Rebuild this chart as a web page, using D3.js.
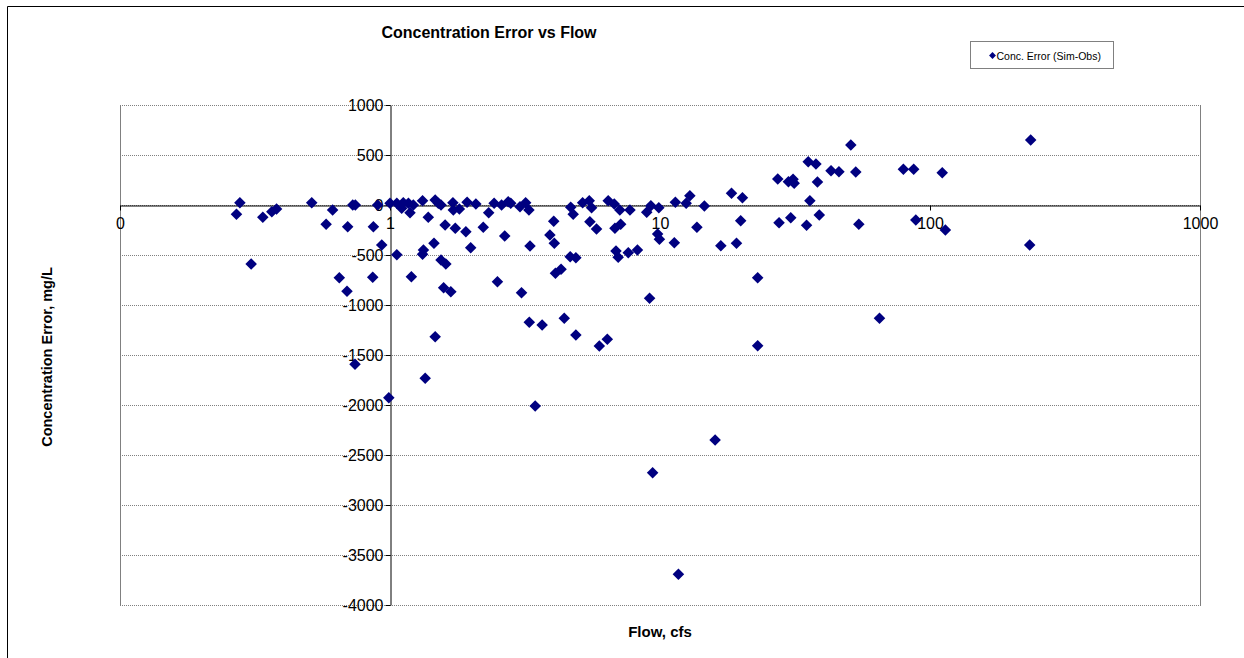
<!DOCTYPE html>
<html>
<head>
<meta charset="utf-8">
<script src="https://cdn.jsdelivr.net/npm/d3@7"></script>
<style>
  body { margin: 0; background: #fff; }
  svg { display: block; font-family: "Liberation Sans", Arial, sans-serif; }
  .title, .axis-label { font-weight: bold; fill: #000; }
</style>
</head>
<body>
<svg id="chart" width="1244" height="658"></svg>
<script>
// flow (cfs) and concentration error (mg/L)
const flows = [
  0.278, 0.27, 0.306, 0.338, 0.365, 0.38, 0.513, 0.613, 0.58, 0.697,
  0.649, 0.693, 0.742, 0.728, 0.744, 0.9, 0.868, 0.863, 0.932, 0.99,
  1.06, 1.0, 1.06, 1.105, 1.12, 1.17, 1.186, 1.22, 1.2, 1.32,
  1.386, 1.33, 1.32, 1.47, 1.35, 1.455, 1.47, 1.51, 1.545, 1.545,
  1.61, 1.6, 1.58, 1.68, 1.71, 1.716, 1.807, 1.745, 1.91, 1.93,
  1.99, 2.08, 2.215, 2.32, 2.43, 2.5, 2.59, 2.66, 2.74, 2.8,
  3.03, 3.18, 3.27, 3.07, 3.3, 3.28, 3.66, 3.45, 4.04, 3.91,
  4.06, 4.1, 4.3, 4.42, 4.65, 4.88, 4.67, 4.77, 4.88, 5.17,
  5.47, 5.58, 5.5, 5.82, 5.96, 6.38, 6.43, 6.77, 7.1, 6.81,
  7.15, 6.87, 7.0, 7.63, 8.25, 7.74, 8.93, 9.25, 9.9, 9.15,
  9.8, 9.95, 11.4, 11.3, 12.5, 12.9, 13.7, 14.6, 16.8, 18.4,
  20.2, 19.2, 19.9, 23.0, 23.0, 16.0, 9.39, 11.7, 27.3, 27.6,
  29.9, 31.1, 31.4, 30.5, 34.9, 35.4, 37.8, 35.9, 38.3, 38.9,
  43.0, 46.0, 50.9, 53.1, 54.5, 65, 79.7, 87, 88.6, 111,
  114, 236, 234
];
const errors = [
  23, -93, -590, -123, -67, -40, 23, -50, -193, -217,
  -727, -863, -1593, 0, 0, 0, -217, -723, -400, -1927,
  -497, 17, 17, -33, 23, 17, -77, 0, -717, 43,
  -123, -450, -493, -1317, -1733, -383, 50, 17, 0, -550,
  -590, -200, -827, -867, 23, -50, -40, -233, -267, 27,
  -427, 10, -223, -77, 17, -767, 0, -310, 33, 17,
  -17, 23, -50, -877, -410, -1173, -1200, -2010, -163, -300,
  -383, -683, -643, -1133, -517, -527, -23, -93, -1300, 23,
  43, -27, -167, -240, -1410, -1343, 43, 10, -50, -233,
  -193, -460, -523, -477, -450, -50, -73, -7, -27, -933,
  -290, -343, 27, -377, 17, 93, -223, -10, -407, 117,
  73, -383, -157, -727, -1407, -2350, -2677, -3693, 260, -177,
  233, 257, 217, -127, -203, 433, 410, 43, 230, -100,
  343, 333, 600, 330, -193, -1133, 357, 357, -150, 323,
  -250, 650, -400
];
const xTicks = [0.1, 1, 10, 100, 1000];
const yTicks = [-4000, -3500, -3000, -2500, -2000, -1500, -1000, -500, 0, 500, 1000];

const data = flows.map((f, i) => ({ flow: f, err: errors[i] }));

const svg = d3.select("#chart");
const plot = { left: 120, right: 1200, top: 105, bottom: 605 };

const x = d3.scaleLog().domain([0.1, 1000]).range([plot.left, plot.right]);
const y = d3.scaleLinear().domain([-4000, 1000]).range([plot.bottom, plot.top]);

// outer chart frame
svg.append("path")
  .attr("d", "M7.5,658 V6.5 H1244")
  .attr("fill", "none")
  .attr("stroke", "#000")
  .attr("stroke-width", 1);

// gridlines
svg.append("g")
  .selectAll("line")
  .data(yTicks)
  .join("line")
  .attr("x1", plot.left)
  .attr("x2", plot.right)
  .attr("y1", (d) => Math.round(y(d)) + 0.5)
  .attr("y2", (d) => Math.round(y(d)) + 0.5)
  .attr("stroke", "#808080")
  .attr("stroke-dasharray", "1,1");

// plot area sides
svg.append("g")
  .selectAll("line")
  .data([plot.left, plot.right])
  .join("line")
  .attr("x1", (d) => d + 0.5)
  .attr("x2", (d) => d + 0.5)
  .attr("y1", plot.top)
  .attr("y2", plot.bottom + 1)
  .attr("stroke", "#808080");

// x axis crossing at y = 0
const xAxis = svg.append("g")
  .attr("transform", `translate(0,${Math.round(y(0)) + 0.5})`)
  .call(d3.axisBottom(x)
    .tickValues(xTicks)
    .tickFormat((d) => (d < 1 ? "0" : String(d)))
    .tickSizeInner(5)
    .tickSizeOuter(0)
    .tickPadding(7));
xAxis.select(".domain").attr("stroke", "#000");
xAxis.selectAll(".tick line").attr("stroke", "#000");
xAxis.selectAll("text")
  .attr("font-size", 16)
  .attr("font-family", "Liberation Sans, Arial, sans-serif")
  .attr("fill", "#000");

// y axis crossing at x = 1
const yAxis = svg.append("g")
  .attr("transform", `translate(${Math.round(x(1)) + 0.5},0)`)
  .call(d3.axisLeft(y)
    .tickValues(yTicks)
    .tickFormat((d) => String(d))
    .tickSizeInner(5)
    .tickSizeOuter(0)
    .tickPadding(2));
yAxis.select(".domain").attr("stroke", "#000");
yAxis.selectAll(".tick line").attr("stroke", "#000");
yAxis.selectAll("text")
  .attr("font-size", 16)
  .attr("font-family", "Liberation Sans, Arial, sans-serif")
  .attr("fill", "#000");

// diamonds
const diamond = d3.symbol().type(d3.symbolDiamond2).size(85);
svg.append("g")
  .selectAll("path")
  .data(data)
  .join("path")
  .attr("d", diamond)
  .attr("transform", (d) => `translate(${x(d.flow)},${y(d.err)})`)
  .attr("fill", "#000080");

// title and axis labels
svg.append("text")
  .attr("class", "title")
  .attr("x", 489)
  .attr("y", 38)
  .attr("text-anchor", "middle")
  .attr("font-size", 16)
  .text("Concentration Error vs Flow");

svg.append("text")
  .attr("class", "axis-label")
  .attr("x", 660)
  .attr("y", 637)
  .attr("text-anchor", "middle")
  .attr("font-size", 15)
  .text("Flow, cfs");

svg.append("text")
  .attr("class", "axis-label")
  .attr("transform", "rotate(-90)")
  .attr("x", -357)
  .attr("y", 52)
  .attr("text-anchor", "middle")
  .attr("font-size", 14.5)
  .text("Concentration Error, mg/L");

// legend
const legend = svg.append("g").attr("transform", "translate(970.5,41.5)");
legend.append("rect")
  .attr("width", 143)
  .attr("height", 27)
  .attr("fill", "#fff")
  .attr("stroke", "#808080");
legend.append("path")
  .attr("d", d3.symbol().type(d3.symbolDiamond2).size(30))
  .attr("transform", "translate(22,14)")
  .attr("fill", "#000080");
legend.append("text")
  .attr("x", 26)
  .attr("y", 18)
  .attr("font-size", 10.5)
  .attr("fill", "#000")
  .text("Conc. Error (Sim-Obs)");
</script>
</body>
</html>
